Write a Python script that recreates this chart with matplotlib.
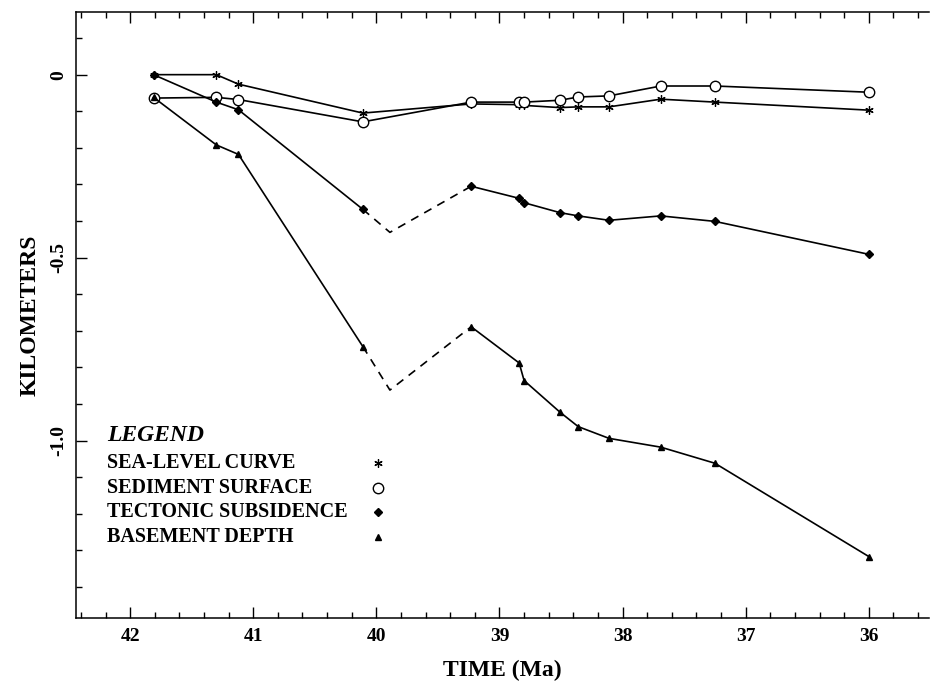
import numpy as np
import matplotlib
matplotlib.use('Agg')
from matplotlib import pyplot as plt
from matplotlib.ticker import MultipleLocator, FixedLocator, FixedFormatter

# ages (Ma) of the control points, shared by all four curves
time = [41.81, 41.30, 41.12, 40.11, 39.23, 38.84, 38.80, 38.51, 38.36, 38.11, 37.69, 37.25, 36.0]

sea_level = [0.0, 0.0, -0.026, -0.105, -0.080, -0.082, -0.084, -0.090, -0.088, -0.088, -0.067, -0.075, -0.097]
sediment = [-0.064, -0.062, -0.068, -0.129, -0.075, -0.075, -0.075, -0.070, -0.061, -0.058, -0.031, -0.031, -0.048]
tectonic = [0.0, -0.075, -0.096, -0.368, -0.305, -0.338, -0.350, -0.377, -0.386, -0.398, -0.386, -0.401, -0.491]
basement = [-0.062, -0.192, -0.218, -0.743, -0.689, -0.788, -0.836, -0.922, -0.962, -0.994, -1.018, -1.062, -1.317]

# inferred minimum between 40.1 and 39.2 Ma (dashed part)
gap_time = 39.89
tectonic_gap = -0.431
basement_gap = -0.862

legend_labels = ['SEA-LEVEL CURVE', 'SEDIMENT SURFACE', 'TECTONIC SUBSIDENCE', 'BASEMENT DEPTH']
ytick_vals = [0, -0.5, -1.0]
ytick_text = ['0', '-0.5', '-1.0']
xtick_vals = [42, 41, 40, 39, 38, 37, 36]

plt.rcParams['font.family'] = ['Liberation Serif', 'DejaVu Serif']
plt.rcParams['font.weight'] = 'bold'

fig = plt.figure(figsize=(9.31, 6.87), dpi=100)
ax = fig.add_axes([0.0816, 0.1004, 0.9164, 0.882])

lw = 1.2
k = 'black'
mk = {
    'sea': dict(marker=(6, 2, 0), markersize=6, mew=0.9, color=k),
    'sed': dict(marker='o', markersize=7.5, mfc='white', mec=k, mew=1.0),
    'tec': dict(marker='D', markersize=4.5, color=k),
    'bas': dict(marker='^', markersize=5, color=k),
}

ax.plot(time, sea_level, '-', lw=lw, color=k, **{a: b for a, b in mk['sea'].items() if a != 'color'})
ax.plot(time, sediment, '-', lw=lw, color=k, **mk['sed'])

i = 3  # index of 40.11 Ma, where the dashed part starts
for vals, gap, key in [(tectonic, tectonic_gap, 'tec'), (basement, basement_gap, 'bas')]:
    ax.plot(time[:i + 1], vals[:i + 1], '-', lw=lw, color=k)
    ax.plot(time[i + 1:], vals[i + 1:], '-', lw=lw, color=k)
    ax.plot([time[i], gap_time, time[i + 1]], [vals[i], gap, vals[i + 1]], '--', lw=lw, color=k,
            dashes=(5, 4))
    ax.plot(time, vals, linestyle='none', **mk[key])

ax.set_xlim(42.44, 35.51)
ax.set_ylim(-1.485, 0.171)

ax.xaxis.set_major_locator(FixedLocator(xtick_vals))
ax.xaxis.set_minor_locator(MultipleLocator(0.2))
ax.yaxis.set_major_locator(FixedLocator(ytick_vals))
ax.yaxis.set_major_formatter(FixedFormatter(ytick_text))
ax.yaxis.set_minor_locator(MultipleLocator(0.1))

ax.tick_params(which='both', direction='in', top=True, right=False, width=1.0, colors=k)
ax.tick_params(which='major', length=8)
ax.tick_params(which='minor', length=4)
ax.tick_params(axis='x', labelsize=14, pad=7)
ax.tick_params(axis='y', labelsize=14, pad=6)
for lab in ax.get_yticklabels():
    lab.set_rotation(90)
    lab.set_va('center')
for lab in ax.get_xticklabels() + ax.get_yticklabels():
    lab.set_fontweight('bold')

ax.spines['right'].set_visible(False)
for s in ['left', 'bottom', 'top']:
    ax.spines[s].set_linewidth(1.1)

ax.set_xlabel('TIME (Ma)', fontsize=17, fontweight='bold', labelpad=11)
ax.set_ylabel('KILOMETERS', fontsize=17, fontweight='bold', labelpad=7)

# hand-drawn legend block
ax.text(0.036, 0.302, 'LEGEND', transform=ax.transAxes, fontsize=17, fontstyle='italic',
        fontweight='bold', va='center', ha='left')
ypos = [0.256, 0.215, 0.175, 0.134]
keys = ['sea', 'sed', 'tec', 'bas']
for lab, yy, key in zip(legend_labels, ypos, keys):
    ax.text(0.036, yy, lab, transform=ax.transAxes, fontsize=14.5, fontweight='bold',
            va='center', ha='left')
    ax.plot([0.354], [yy], transform=ax.transAxes, linestyle='none', clip_on=False, **mk[key])

fig.savefig('out.png', dpi=100)
